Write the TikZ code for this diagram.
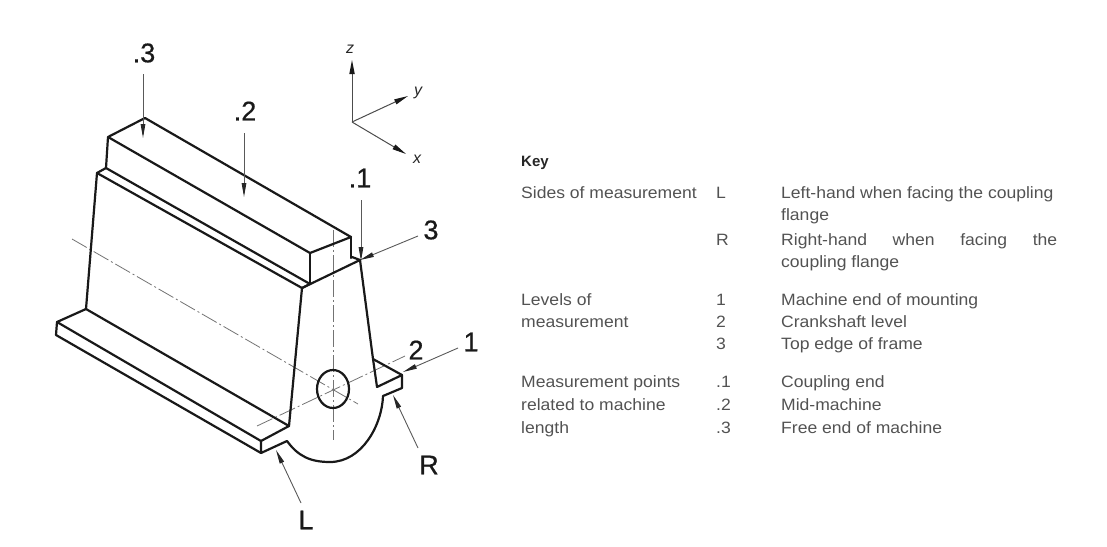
\documentclass[tikz,border=0pt]{standalone}
\usepackage{fontspec}
\setmainfont{Liberation Sans}
\newfontfamily\keyfont[FakeStretch=1.07]{Liberation Sans}
\newfontfamily\bigfont[FakeBold=0.6]{Liberation Sans}
\usetikzlibrary{arrows.meta,shapes.geometric}
\tikzset{
  outline/.style={line width=2.2pt,black!90,line join=round,line cap=round},
  leader/.style={line width=0.9pt,black!65,-{Stealth[length=14pt,width=4.6pt,inset=0pt,black!85]}},
  axisline/.style={line width=1pt,black!70,-{Stealth[length=14pt,width=5.2pt,inset=0pt,black!90]}},
  centre/.style={line width=0.8pt,black!55,dash pattern=on 17pt off 3pt on 2pt off 3pt},
  bigtext/.style={font=\bigfont\fontsize{27}{27}\selectfont,black!90,inner sep=0pt},
  axistext/.style={font=\fontsize{16}{16}\selectfont\itshape,black!85,inner sep=0pt},
  keytext/.style={font=\keyfont\fontsize{16.4}{16.4}\selectfont,black!68,inner sep=0pt,anchor=base west},
  keyhead/.style={font=\fontsize{15}{15}\selectfont\bfseries,black!85,inner sep=0pt,anchor=base west}
}
\begin{document}
\begin{tikzpicture}[x=1pt,y=-1pt]
\useasboundingbox (0,0) rectangle (1107,546);
% centre lines
\coordinate (cxa) at (72,239); \coordinate (cxb) at (358,404);
\coordinate (cya) at (257,426); \coordinate (cyb) at (405,356);
\coordinate (cza) at (333,230); \coordinate (czb) at (333,440);
\draw[centre] (cxa) -- (cxb);
\draw[centre] (cya) -- (cyb);
\draw[centre] (cza) -- (czb);
% top block
\coordinate (ta) at (145,118); \coordinate (tb) at (108,137);
\coordinate (tc) at (310,253); \coordinate (td) at (351,237);
\coordinate (te) at (106,168); \coordinate (tf) at (310,284);
\coordinate (tg) at (351,258);
\draw[outline] (te) -- (tb) -- (ta) -- (td) -- (tc) -- (tb);
\draw[outline] (tc) -- (tf);
\draw[outline] (td) -- (tg);
% frame
\coordinate (fa) at (97,173); \coordinate (fb) at (302,288);
\coordinate (fc) at (360,260); \coordinate (fd) at (373,359);
\coordinate (fe) at (377,387); \coordinate (ff) at (402,375);
\coordinate (fg) at (402,388); \coordinate (fh) at (383,396);
\coordinate (fi) at (287,441); \coordinate (fj) at (261,453);
\coordinate (fk) at (261,441); \coordinate (fl) at (289,426);
\coordinate (fm) at (86,309); \coordinate (fn) at (57,322);
\coordinate (fo) at (56,335); \coordinate (fp) at (352,257);
\draw[outline] (te) -- (fa) -- (fb) -- (fc) -- (fd) -- (fe) -- (ff) -- (fg) -- (fh)
  .. controls (382,425) and (362,462) .. (330,462)
  .. controls (310,462) and (298,456) .. (fi) -- (fj) -- (fk) -- (fl) -- (fb);
\draw[outline] (te) -- (tf) -- (fb);
\draw[outline] (fa) -- (fm) -- (fl);
\draw[outline] (fm) -- (fn) -- (fo) -- (fj);
\draw[outline] (fn) -- (fk);
\draw[outline] (fd) -- (ff);
\draw[outline] (fp) -- (fc);
% crankshaft
\node[draw,outline,ellipse,minimum width=32pt,minimum height=38pt,inner sep=0pt] (hole) at (333,389) {};
% labels
\node[bigtext] (p3) at (144,53) {.3};
\node[bigtext] (p2) at (245,111) {.2};
\node[bigtext] (p1) at (360,178) {.1};
\node[bigtext] (l3) at (431,230) {3};
\node[bigtext] (l2) at (416,350) {2};
\node[bigtext] (l1) at (471,342) {1};
\node[bigtext] (sr) at (429,465) {R};
\node[bigtext] (sl) at (306,520) {L};
% leaders
\coordinate (a3) at (143,74); \coordinate (t3) at (143,138);
\coordinate (a2) at (244,133); \coordinate (t2) at (244,197);
\coordinate (a1) at (361,200); \coordinate (t1) at (361,261);
\coordinate (b3) at (418,236); \coordinate (u3) at (360,260);
\coordinate (b1) at (458,348); \coordinate (u1) at (403,372);
\coordinate (br) at (418,448); \coordinate (ur) at (393,395);
\coordinate (bl) at (301,503); \coordinate (ul) at (276,450);
\draw[leader] (a3) -- (t3);
\draw[leader] (a2) -- (t2);
\draw[leader] (a1) -- (t1);
\draw[leader] (b3) -- (u3);
\draw[leader] (b1) -- (u1);
\draw[leader] (br) -- (ur);
\draw[leader] (bl) -- (ul);
% axes
\coordinate (o) at (352,122);
\coordinate (oz) at (352,60); \coordinate (oy) at (408,96); \coordinate (ox) at (406,154);
\draw[axisline] (o) -- (oz);
\draw[axisline] (o) -- (oy);
\draw[axisline] (o) -- (ox);
\node[axistext] (zt) at (350,49) {z};
\node[axistext] (yt) at (418,93) {y};
\node[axistext] (xt) at (417,159) {x};
% key
\node[keyhead] (k0) at (521,166) {Key};
\node[keytext] (k1) at (521,198) {Sides of measurement};
\node[keytext] (k2) at (716,198) {L};
\node[keytext] (k3) at (781,198) {Left-hand when facing the coupling};
\node[keytext] (k4) at (781,220) {flange};
\node[keytext] (k5) at (716,245) {R};
\node[keytext] (k6) at (781,245) {\makebox[276pt][s]{Right-hand\hfill when\hfill facing\hfill the}};
\node[keytext] (k7) at (781,267) {coupling flange};
\node[keytext] (k8) at (521,305) {Levels of};
\node[keytext] (k9) at (521,327) {measurement};
\node[keytext] (k10) at (716,305) {1};
\node[keytext] (k11) at (716,327) {2};
\node[keytext] (k12) at (716,349) {3};
\node[keytext] (k13) at (781,305) {Machine end of mounting};
\node[keytext] (k14) at (781,327) {Crankshaft level};
\node[keytext] (k15) at (781,349) {Top edge of frame};
\node[keytext] (k16) at (521,387) {Measurement points};
\node[keytext] (k17) at (521,410) {related to machine};
\node[keytext] (k18) at (521,433) {length};
\node[keytext] (k19) at (716,387) {.1};
\node[keytext] (k20) at (716,410) {.2};
\node[keytext] (k21) at (716,433) {.3};
\node[keytext] (k22) at (781,387) {Coupling end};
\node[keytext] (k23) at (781,410) {Mid-machine};
\node[keytext] (k24) at (781,433) {Free end of machine};
\end{tikzpicture}
\end{document}
